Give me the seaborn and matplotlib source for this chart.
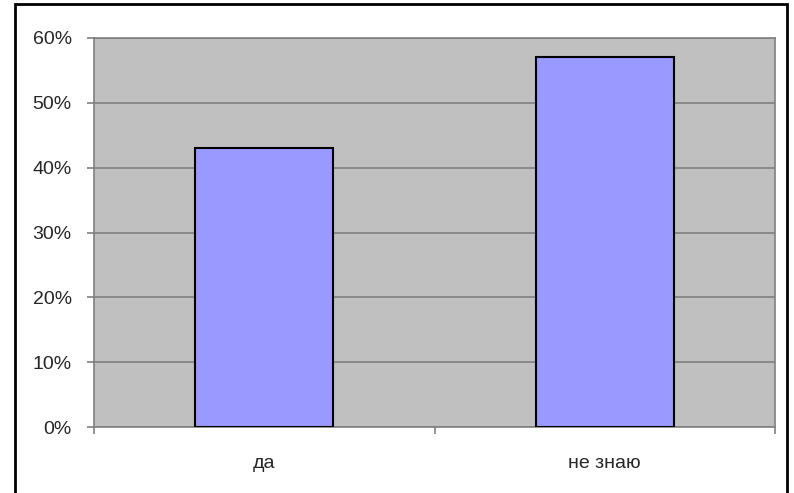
import matplotlib
matplotlib.use("Agg")
import matplotlib.pyplot as plt
import seaborn as sns
import pandas as pd
from matplotlib.patches import Rectangle
from matplotlib.ticker import FixedLocator, PercentFormatter

categories = ["да", "не знаю"]
values = [43, 57]

sns.set_theme(style="white")
plt.rcParams['font.family'] = ['Liberation Sans', 'DejaVu Sans']

df = pd.DataFrame({"cat": categories, "val": values})

fig = plt.figure(figsize=(7.94, 4.93), dpi=100)
ax = fig.add_axes([94/794, 1-427/493, (775-94)/794, (427-38)/493])

sns.barplot(data=df, x="cat", y="val", color="#9999FF", saturation=1,
            width=0.405, edgecolor="black", linewidth=1.5, ax=ax, zorder=3)

ax.set_facecolor("#C0C0C0")
ax.set_ylim(0, 60)
ax.set_xlim(-0.5, 1.5)
ax.set_yticks(range(0, 61, 10))
ax.yaxis.set_major_formatter(PercentFormatter(decimals=0))
ax.grid(axis="y", color="#808080", linewidth=1.2, zorder=0)
ax.set_axisbelow(True)
for s in ax.spines.values():
    s.set_color("#808080")
    s.set_linewidth(1.2)
ax.set_xlabel("")
ax.set_ylabel("")
ax.tick_params(axis="y", which="major", length=5, color="#808080", width=1.2,
               labelsize=14, pad=11, left=True)
ax.tick_params(axis="x", which="major", length=0, labelsize=14, pad=20)
ax.xaxis.set_minor_locator(FixedLocator([-0.5, 0.5, 1.5]))
ax.tick_params(axis="x", which="minor", length=5, color="#808080", width=1.2, bottom=True)

fig.patches.append(Rectangle((15/794, -0.05), (787-15)/794, 1.05 - 4/493,
                             transform=fig.transFigure, fill=False,
                             edgecolor="black", linewidth=2, zorder=10))

fig.savefig("out.png", dpi=100)
